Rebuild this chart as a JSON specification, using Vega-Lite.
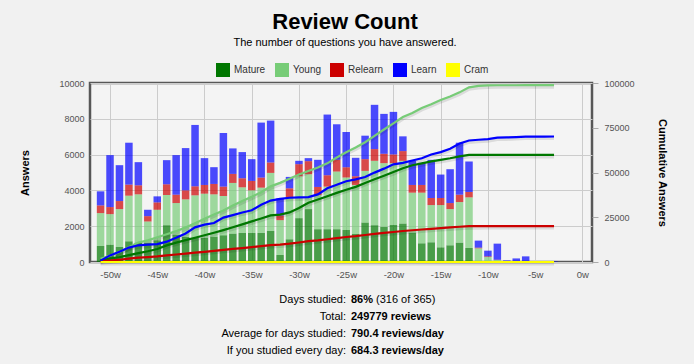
{
  "$schema": "https://vega.github.io/schema/vega-lite/v6.json",
  "width": 502,
  "height": 179,
  "autosize": {"type": "none"},
  "padding": {"left": 90, "top": 83, "right": 102, "bottom": 102},
  "background": "#f1f1f1",
  "title": {
    "text": "Review Count",
    "subtitle": "The number of questions you have answered.",
    "anchor": "middle",
    "font": "Liberation Sans",
    "fontSize": 22,
    "fontWeight": "bold",
    "color": "#000000",
    "subtitleFont": "Liberation Sans",
    "subtitleFontSize": 11,
    "subtitleColor": "#000000",
    "subtitlePadding": 3,
    "offset": 14,
    "dx": 4
  },
  "config": {
    "font": "Liberation Sans",
    "view": {"stroke": "#575757", "strokeWidth": 2.5, "fill": "#f4f4f4"},
    "axis": {
      "labelFont": "Liberation Sans",
      "labelFontSize": 9,
      "labelColor": "#545454",
      "gridColor": "#cccccc",
      "gridWidth": 1,
      "domain": false,
      "titleFont": "Liberation Sans",
      "titleFontSize": 11,
      "titleFontWeight": "bold",
      "titleColor": "#000000"
    }
  },
  "resolve": {"scale": {"y": "independent"}},
  "layer": [
    {
      "data": {"name": "weeks"},
      "transform": [
        {"fold": ["Mature", "Young", "Relearn", "Learn", "Cram"], "as": ["type", "count"]},
        {"calculate": "indexof(['Mature','Young','Relearn','Learn','Cram'], datum.type)", "as": "ord"}
      ],
      "mark": {"type": "bar", "width": 7.5, "fillOpacity": 0.7},
      "encoding": {
        "x": {
          "field": "w", "type": "quantitative",
          "scale": {"domain": [-51.59, 0.49], "nice": false, "zero": false},
          "axis": {"values": [-50, -45, -40, -35, -30, -25, -20, -15, -10, -5, 0], "labelExpr": "datum.value + 'w'", "title": null, "grid": true, "ticks": false, "tickSize": 0, "labelPadding": 7, "labelFontSize": 9.5}
        },
        "y": {
          "field": "count", "type": "quantitative", "stack": "zero",
          "scale": {"domain": [0, 10000], "nice": false},
          "axis": {"orient": "left", "values": [0, 2000, 4000, 6000, 8000, 10000], "title": "Answers", "grid": true, "ticks": false, "tickSize": 0, "labelPadding": 6, "titlePadding": 28, "format": "d"}
        },
        "color": {
          "field": "type", "type": "nominal",
          "sort": ["Mature", "Young", "Relearn", "Learn", "Cram"],
          "scale": {"domain": ["Mature", "Young", "Relearn", "Learn", "Cram"], "range": ["#007700", "#77cc77", "#cc0000", "#0000ff", "#ffff00"]},
          "legend": {"orient": "none", "legendX": 126, "legendY": -20, "direction": "horizontal", "title": null, "symbolType": "square", "symbolSize": 144, "symbolStrokeColor": "#c8c8c8", "symbolStrokeWidth": 2, "symbolOpacity": 1, "labelFont": "Liberation Sans", "labelFontSize": 10, "labelColor": "#333333", "columnPadding": 6, "labelOffset": 4}
        },
        "order": {"field": "ord", "type": "quantitative"}
      }
    },
    {
      "data": {"name": "weeks"},
      "transform": [
        {"fold": ["Mature", "Young", "Relearn", "Learn", "Cram"], "as": ["type", "count"]},
        {"window": [{"op": "sum", "field": "count", "as": "cum"}], "sort": [{"field": "w"}], "groupby": ["type"], "frame": [null, 0]}
      ],
      "layer": [
        {
          "mark": {"type": "line", "strokeWidth": 4, "color": "#000000", "opacity": 0.1, "yOffset": 1.5},
          "encoding": {
            "x": {"field": "w", "type": "quantitative", "scale": {"domain": [-51.59, 0.49], "nice": false, "zero": false}, "axis": {"values": [-50, -45, -40, -35, -30, -25, -20, -15, -10, -5, 0], "labelExpr": "datum.value + 'w'", "title": null, "grid": true, "ticks": false, "tickSize": 0, "labelPadding": 7, "labelFontSize": 9.5}},
            "y": {"field": "cum", "type": "quantitative", "scale": {"domain": [0, 100000], "nice": false}, "axis": {"orient": "right", "values": [0, 25000, 50000, 75000, 100000], "title": "Cumulative Answers", "grid": false, "ticks": true, "tickSize": 6, "tickColor": "#aaaaaa", "labelPadding": 6, "titlePadding": 22, "format": "d"}},
            "detail": {"field": "type"}
          }
        },
        {
          "mark": {"type": "line", "strokeWidth": 2.2},
          "encoding": {
            "x": {"field": "w", "type": "quantitative", "scale": {"domain": [-51.59, 0.49], "nice": false, "zero": false}, "axis": {"values": [-50, -45, -40, -35, -30, -25, -20, -15, -10, -5, 0], "labelExpr": "datum.value + 'w'", "title": null, "grid": true, "ticks": false, "tickSize": 0, "labelPadding": 7, "labelFontSize": 9.5}},
            "y": {"field": "cum", "type": "quantitative", "scale": {"domain": [0, 100000], "nice": false}, "axis": {"orient": "right", "values": [0, 25000, 50000, 75000, 100000], "title": "Cumulative Answers", "grid": false, "ticks": true, "tickSize": 6, "tickColor": "#aaaaaa", "labelPadding": 6, "titlePadding": 22, "format": "d"}},
            "color": {"field": "type", "type": "nominal", "sort": ["Mature", "Young", "Relearn", "Learn", "Cram"], "scale": {"domain": ["Mature", "Young", "Relearn", "Learn", "Cram"], "range": ["#007700", "#77cc77", "#cc0000", "#0000ff", "#ffff00"]}, "legend": null}
          }
        }
      ]
    },
    {
      "data": {"name": "stats"},
      "encoding": {
        "y": {"field": "line", "type": "ordinal", "scale": {"type": "point", "range": [217, 268], "padding": 0}, "axis": null}
      },
      "layer": [
        {"mark": {"type": "text", "align": "right", "baseline": "middle", "font": "Liberation Sans", "fontSize": 11, "color": "#000000"}, "encoding": {"x": {"value": 256}, "text": {"field": "label"}}},
        {"mark": {"type": "text", "align": "left", "baseline": "middle", "font": "Liberation Sans", "fontSize": 11, "fontWeight": "bold", "color": "#000000"}, "encoding": {"x": {"value": 261}, "text": {"field": "value"}}},
        {"mark": {"type": "text", "align": "left", "baseline": "middle", "font": "Liberation Sans", "fontSize": 11, "color": "#000000"}, "encoding": {"x": {"value": 286}, "text": {"field": "extra"}}}
      ]
    }
  ],
  "datasets": {
    "stats": [
      {"line": "1", "label": "Days studied:", "value": "86%", "extra": "(316 of 365)"},
      {"line": "2", "label": "Total:", "value": "249779 reviews", "extra": ""},
      {"line": "3", "label": "Average for days studied:", "value": "790.4 reviews/day", "extra": ""},
      {"line": "4", "label": "If you studied every day:", "value": "684.3 reviews/day", "extra": ""}
    ],
    "weeks": [
      {"w": -51, "Mature": 895, "Young": 1836, "Relearn": 431, "Learn": 786, "Cram": 0},
      {"w": -50, "Mature": 970, "Young": 1705, "Relearn": 393, "Learn": 2903, "Cram": 0},
      {"w": -49, "Mature": 839, "Young": 2117, "Relearn": 449, "Learn": 2004, "Cram": 0},
      {"w": -48, "Mature": 1158, "Young": 2547, "Relearn": 618, "Learn": 2341, "Cram": 0},
      {"w": -47, "Mature": 1083, "Young": 2697, "Relearn": 505, "Learn": 1293, "Cram": 0},
      {"w": -46, "Mature": 1080, "Young": 1183, "Relearn": 299, "Learn": 356, "Cram": 0},
      {"w": -45, "Mature": 1214, "Young": 1704, "Relearn": 412, "Learn": 337, "Cram": 0},
      {"w": -44, "Mature": 2057, "Young": 1685, "Relearn": 600, "Learn": 1348, "Cram": 0},
      {"w": -43, "Mature": 1532, "Young": 1761, "Relearn": 468, "Learn": 2210, "Cram": 0},
      {"w": -42, "Mature": 1401, "Young": 2098, "Relearn": 505, "Learn": 2360, "Cram": 0},
      {"w": -41, "Mature": 1345, "Young": 2379, "Relearn": 505, "Learn": 3428, "Cram": 0},
      {"w": -40, "Mature": 1345, "Young": 2472, "Relearn": 487, "Learn": 1499, "Cram": 0},
      {"w": -39, "Mature": 1420, "Young": 2360, "Relearn": 580, "Learn": 937, "Cram": 0},
      {"w": -38, "Mature": 1495, "Young": 2191, "Relearn": 525, "Learn": 2996, "Cram": 0},
      {"w": -37, "Mature": 1588, "Young": 2829, "Relearn": 505, "Learn": 1424, "Cram": 0},
      {"w": -36, "Mature": 1626, "Young": 2547, "Relearn": 506, "Learn": 1461, "Cram": 0},
      {"w": -35, "Mature": 1626, "Young": 2378, "Relearn": 525, "Learn": 1217, "Cram": 0},
      {"w": -34, "Mature": 1626, "Young": 2528, "Relearn": 562, "Learn": 3072, "Cram": 0},
      {"w": -33, "Mature": 1738, "Young": 3240, "Relearn": 581, "Learn": 2341, "Cram": 0},
      {"w": -32, "Mature": 390, "Young": 1947, "Relearn": 263, "Learn": 955, "Cram": 0},
      {"w": -31, "Mature": 1270, "Young": 2341, "Relearn": 506, "Learn": 637, "Cram": 0},
      {"w": -30, "Mature": 2450, "Young": 2341, "Relearn": 674, "Learn": 188, "Cram": 0},
      {"w": -29, "Mature": 2956, "Young": 1948, "Relearn": 730, "Learn": 169, "Cram": 0},
      {"w": -28, "Mature": 1832, "Young": 1910, "Relearn": 450, "Learn": 1517, "Cram": 0},
      {"w": -27, "Mature": 1832, "Young": 2379, "Relearn": 636, "Learn": 3390, "Cram": 0},
      {"w": -26, "Mature": 1832, "Young": 3221, "Relearn": 656, "Learn": 1985, "Cram": 0},
      {"w": -25, "Mature": 1794, "Young": 2922, "Relearn": 581, "Learn": 1966, "Cram": 0},
      {"w": -24, "Mature": 1570, "Young": 2734, "Relearn": 487, "Learn": 1030, "Cram": 0},
      {"w": -23, "Mature": 2206, "Young": 2885, "Relearn": 655, "Learn": 1311, "Cram": 0},
      {"w": -22, "Mature": 2057, "Young": 3596, "Relearn": 655, "Learn": 2473, "Cram": 0},
      {"w": -21, "Mature": 1963, "Young": 3559, "Relearn": 524, "Learn": 2229, "Cram": 0},
      {"w": -20, "Mature": 2075, "Young": 3447, "Relearn": 487, "Learn": 2378, "Cram": 0},
      {"w": -19, "Mature": 2150, "Young": 3503, "Relearn": 543, "Learn": 824, "Cram": 0},
      {"w": -18, "Mature": 1644, "Young": 2229, "Relearn": 431, "Learn": 1349, "Cram": 0},
      {"w": -17, "Mature": 1045, "Young": 2828, "Relearn": 431, "Learn": 1236, "Cram": 0},
      {"w": -16, "Mature": 1101, "Young": 2079, "Relearn": 394, "Learn": 2135, "Cram": 0},
      {"w": -15, "Mature": 820, "Young": 2360, "Relearn": 394, "Learn": 1311, "Cram": 0},
      {"w": -14, "Mature": 933, "Young": 2023, "Relearn": 337, "Learn": 1891, "Cram": 0},
      {"w": -13, "Mature": 1083, "Young": 2266, "Relearn": 412, "Learn": 2903, "Cram": 0},
      {"w": -12, "Mature": 783, "Young": 2828, "Relearn": 300, "Learn": 1704, "Cram": 0},
      {"w": -11, "Mature": 0, "Young": 764, "Relearn": 38, "Learn": 393, "Cram": 0},
      {"w": -10, "Mature": 0, "Young": 277, "Relearn": 38, "Learn": 318, "Cram": 0},
      {"w": -9, "Mature": 0, "Young": 110, "Relearn": 17, "Learn": 899, "Cram": 0},
      {"w": -8, "Mature": 0, "Young": 0, "Relearn": 0, "Learn": 90, "Cram": 0},
      {"w": -7, "Mature": 0, "Young": 0, "Relearn": 0, "Learn": 200, "Cram": 0},
      {"w": -6, "Mature": 0, "Young": 15, "Relearn": 0, "Learn": 300, "Cram": 0},
      {"w": -5, "Mature": 0, "Young": 0, "Relearn": 0, "Learn": 0, "Cram": 0},
      {"w": -4, "Mature": 0, "Young": 0, "Relearn": 0, "Learn": 0, "Cram": 0},
      {"w": -3, "Mature": 0, "Young": 0, "Relearn": 0, "Learn": 25, "Cram": 0}
    ]
  }
}
